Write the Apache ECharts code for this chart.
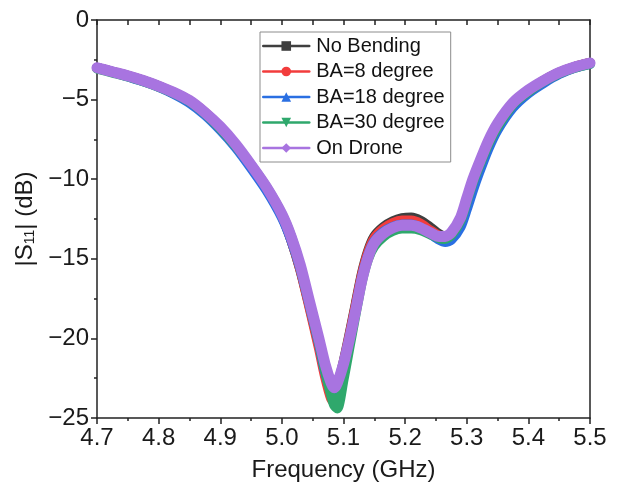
<!DOCTYPE html>
<html><head><meta charset="utf-8">
<script src="https://cdn.jsdelivr.net/npm/echarts@6/dist/echarts.min.js"></script>
<style>html,body{margin:0;padding:0;background:#fff}#c{width:618px;height:487px}</style>
</head><body><div id="c"></div>
<script>
const freq = [4.70,4.725,4.75,4.775,4.80,4.825,4.85,4.875,4.90,4.925,4.95,4.975,5.00,5.015,5.03,5.045,5.06,5.07,5.08,5.085,5.09,5.10,5.11,5.12,5.13,5.14,5.15,5.165,5.18,5.195,5.21,5.225,5.24,5.255,5.265,5.275,5.29,5.30,5.31,5.32,5.335,5.35,5.375,5.40,5.425,5.45,5.475,5.50];
const noBending = [-3.0,-3.25,-3.5,-3.8,-4.15,-4.6,-5.1,-5.85,-6.8,-7.9,-9.2,-10.6,-12.3,-13.8,-15.7,-18.0,-20.4,-22.0,-23.3,-23.5,-23.0,-21.5,-19.7,-17.8,-15.9,-14.5,-13.6,-13.0,-12.65,-12.45,-12.4,-12.6,-13.0,-13.45,-13.6,-13.4,-12.5,-11.3,-10.1,-9.1,-7.7,-6.55,-5.25,-4.45,-3.8,-3.3,-2.95,-2.7];
const ba8 = [-3.0,-3.25,-3.5,-3.8,-4.15,-4.55,-5.05,-5.8,-6.75,-7.85,-9.15,-10.55,-12.3,-13.8,-15.7,-18.1,-20.6,-22.4,-23.8,-24.0,-23.3,-21.6,-19.8,-17.9,-16.0,-14.6,-13.7,-13.1,-12.75,-12.6,-12.6,-12.8,-13.2,-13.55,-13.65,-13.4,-12.5,-11.3,-10.1,-9.1,-7.7,-6.55,-5.25,-4.45,-3.8,-3.3,-2.95,-2.7];
const ba18 = [-3.0,-3.25,-3.55,-3.85,-4.2,-4.65,-5.2,-5.95,-6.9,-8.0,-9.3,-10.7,-12.4,-13.8,-15.6,-17.9,-20.3,-22.1,-23.4,-23.7,-23.3,-21.8,-20.1,-18.2,-16.2,-14.8,-13.9,-13.3,-13.0,-12.85,-12.85,-13.05,-13.4,-13.8,-13.95,-13.8,-13.0,-11.9,-10.7,-9.6,-8.1,-6.9,-5.5,-4.6,-3.95,-3.4,-3.0,-2.75];
const ba30 = [-3.05,-3.3,-3.55,-3.85,-4.2,-4.6,-5.1,-5.85,-6.8,-7.9,-9.1,-10.5,-12.2,-13.6,-15.5,-17.8,-20.2,-22.0,-23.6,-24.2,-24.4,-22.6,-20.5,-18.4,-16.4,-15.0,-14.2,-13.6,-13.25,-13.1,-13.1,-13.2,-13.45,-13.7,-13.75,-13.5,-12.6,-11.4,-10.2,-9.2,-7.8,-6.7,-5.3,-4.5,-3.85,-3.35,-3.0,-2.75];
const onDrone = [-3.0,-3.25,-3.5,-3.8,-4.15,-4.55,-5.05,-5.8,-6.7,-7.8,-9.1,-10.5,-12.2,-13.6,-15.4,-17.7,-20.0,-21.6,-22.8,-23.1,-22.8,-21.6,-20.0,-18.2,-16.3,-14.9,-14.0,-13.4,-13.05,-12.9,-12.9,-13.05,-13.35,-13.6,-13.6,-13.35,-12.4,-11.2,-10.0,-9.0,-7.6,-6.5,-5.2,-4.4,-3.8,-3.3,-2.95,-2.7];
const seriesNames = ['No Bending','BA=8 degree','BA=18 degree','BA=30 degree','On Drone'];
const xTicks = [4.7,4.8,4.9,5.0,5.1,5.2,5.3,5.4,5.5];
const yTicks = [0,-5,-10,-15,-20,-25];

const FONT = 'Liberation Sans, Arial, sans-serif';
const colors = ['#3f3f3f','#f23c3c','#2a6fe2','#2fa86c','#a874e0'];
const symbols = ['rect','circle','triangle','triangle','diamond'];
const rots = [0,0,0,180,0];
const datas = [noBending, ba8, ba18, ba30, onDrone];
const widths = [10,10,10,10,11];

const chart = echarts.init(document.getElementById('c'), null, {renderer:'canvas'});
const axisLineStyle = {color:'#222', width:1.5};
const fmtY = v => (v < 0 ? '\u2212' + Math.abs(v) : String(v));
chart.setOption({
  animation:false,
  backgroundColor:'#fff',
  textStyle:{fontFamily:FONT},
  grid:{left:97,right:28,top:20,bottom:69,containLabel:false},
  legend:{
    data:seriesNames,
    orient:'vertical',
    left:260, top:32,
    width:190,
    padding:[4,6,4,2],
    itemGap:5.5,
    itemWidth:46,
    itemHeight:12,
    borderColor:'#8c8c8c', borderWidth:1,
    backgroundColor:'#fff',
    lineStyle:{width:2.5},
    textStyle:{fontSize:20, color:'#111', fontFamily:FONT, padding:[0,0,0,2]}
  },
  xAxis:[{
    type:'value', min:4.7, max:5.5, interval:0.1, position:'bottom',
    axisLine:{show:true, onZero:false, lineStyle:axisLineStyle},
    axisTick:{show:true, inside:false, length:6, lineStyle:axisLineStyle},
    minorTick:{show:true, splitNumber:2, length:3, lineStyle:{color:'#222', width:1.5}},
    splitLine:{show:false},
    axisLabel:{fontSize:24, color:'#1a1a1a', margin:8, formatter:v=>v.toFixed(1)},
    name:'Frequency (GHz)', nameLocation:'middle', nameGap:40,
    nameTextStyle:{fontSize:24, color:'#1a1a1a'}
  },{
    type:'value', min:4.7, max:5.5, interval:0.05, position:'top',
    axisLine:{show:true, onZero:false, lineStyle:axisLineStyle},
    axisTick:{show:true, inside:true, length:5, lineStyle:axisLineStyle},
    axisLabel:{show:false}, splitLine:{show:false}
  }],
  yAxis:[{
    type:'value', min:-25, max:0, interval:5, position:'left',
    axisLine:{show:true, onZero:false, lineStyle:axisLineStyle},
    axisTick:{show:true, inside:false, length:6, lineStyle:axisLineStyle},
    minorTick:{show:true, splitNumber:2, length:3, lineStyle:{color:'#222', width:1.5}},
    splitLine:{show:false},
    axisLabel:{fontSize:24, color:'#1a1a1a', margin:8, formatter:fmtY},
    name:'|S{sub|11}| (dB)', nameLocation:'middle', nameGap:49, nameRotate:90,
    nameTextStyle:{fontSize:24, color:'#1a1a1a', rich:{sub:{fontSize:14, color:'#1a1a1a', verticalAlign:'bottom', padding:[10,0,0,0]}}}
  },{
    type:'value', min:-25, max:0, interval:5, position:'right',
    axisLine:{show:true, onZero:false, lineStyle:axisLineStyle},
    axisTick:{show:false}, axisLabel:{show:false}, splitLine:{show:false}
  }],
  series: seriesNames.map((n,i)=>({
    name:n, type:'line', xAxisIndex:0, yAxisIndex:0,
    data: freq.map((f,k)=>[f, datas[i][k]]),
    symbol:symbols[i], symbolRotate:rots[i], symbolSize:9, showSymbol:false,
    smooth:0.25,
    lineStyle:{color:colors[i], width:widths[i], join:'round', cap:'round'},
    itemStyle:{color:colors[i]},
    z:2+i
  }))
});
</script></body></html>
